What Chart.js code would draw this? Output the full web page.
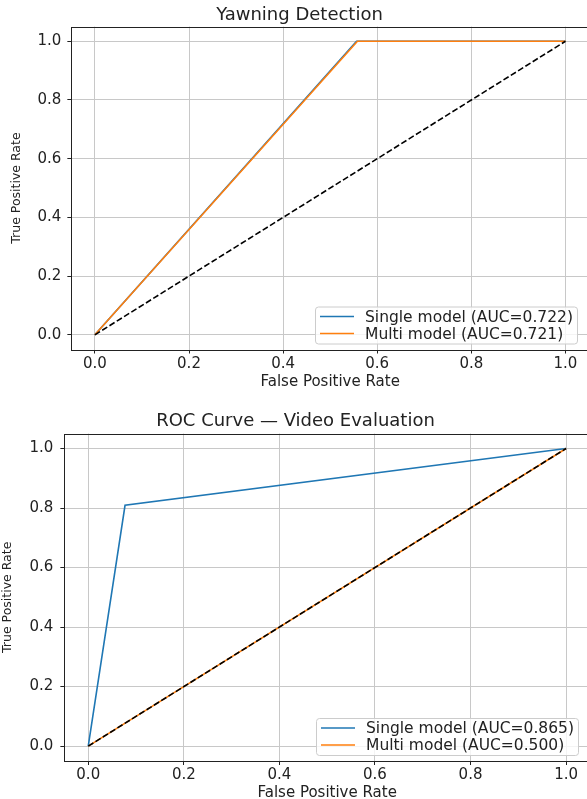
<!DOCTYPE html>
<html>
<head>
<meta charset="utf-8">
<script src="https://cdn.jsdelivr.net/npm/chart.js@4.4.1/dist/chart.umd.min.js"></script>
<style>
  html, body { margin: 0; padding: 0; background: #fff; overflow: hidden; }
  .box { position: absolute; left: 0; width: 600px; }
  #top { top: 0; height: 395px; }
  #bottom { top: 395px; height: 408px; }
</style>
</head>
<body>
<div class="box" id="top"><canvas id="yawnChart"></canvas></div>
<div class="box" id="bottom"><canvas id="videoChart"></canvas></div>
<script>
// Yawning detection ROC points
const yawnSingleFpr = [0, 0.556, 1];
const yawnSingleTpr = [0, 1, 1];
const yawnMultiFpr = [0, 0.558, 1];
const yawnMultiTpr = [0, 1, 1];

// Video evaluation ROC points
const videoSingleFpr = [0, 0.077, 1];
const videoSingleTpr = [0, 0.809, 1];
const videoMultiFpr = [0, 1];
const videoMultiTpr = [0, 1];

const chanceFpr = [0, 1];
const chanceTpr = [0, 1];

const tickValues = [0, 0.2, 0.4, 0.6, 0.8, 1.0];

const yawnLabels = ["Single model (AUC=0.722)", "Multi model (AUC=0.721)"];
const videoLabels = ["Single model (AUC=0.865)", "Multi model (AUC=0.500)"];

const BLUE = "#1f77b4";
const ORANGE = "#ff7f0e";
const FONT = "'DejaVu Sans', sans-serif";

function pts(xs, ys) {
  return xs.map((x, i) => ({ x: x, y: ys[i] }));
}

// legend in lower right, matplotlib style
const rocLegend = {
  id: "rocLegend",
  afterDatasetsDraw(chart) {
    const ctx = chart.ctx;
    const area = chart.chartArea;
    const items = chart.data.datasets.filter(d => d.inLegend);
    ctx.save();
    ctx.font = "15.5px " + FONT;
    let textW = 0;
    items.forEach(d => { textW = Math.max(textW, ctx.measureText(d.label).width); });
    const rowH = 17;
    const w = 5 + 34 + 11 + textW + 4;
    const h = items.length * rowH + 3;
    const right = area.right - 12;
    const bottom = area.bottom - 6;
    const left = right - w;
    const top = bottom - h;
    ctx.beginPath();
    ctx.roundRect(left + 0.5, top + 0.5, w, h, 3);
    ctx.fillStyle = "rgba(255,255,255,0.8)";
    ctx.fill();
    ctx.strokeStyle = "#cccccc";
    ctx.lineWidth = 1;
    ctx.stroke();
    items.forEach((d, i) => {
      const cy = top + 1.5 + rowH * i + rowH / 2;
      ctx.beginPath();
      ctx.moveTo(left + 5, cy);
      ctx.lineTo(left + 39, cy);
      ctx.strokeStyle = d.borderColor;
      ctx.lineWidth = 1.6;
      ctx.stroke();
      ctx.fillStyle = "#222";
      ctx.textBaseline = "middle";
      ctx.fillText(d.label, left + 50, cy + 1);
    });
    ctx.restore();
  }
};

// full box around the plot area
const frame = {
  id: "frame",
  afterDraw(chart) {
    const a = chart.chartArea;
    const ctx = chart.ctx;
    ctx.save();
    ctx.strokeStyle = "#222";
    ctx.lineWidth = 1;
    ctx.strokeRect(Math.round(a.left) + 0.5, Math.round(a.top) + 0.5,
      Math.round(a.right - a.left), Math.round(a.bottom - a.top));
    ctx.restore();
  }
};

function axis(titleText, isY, tickPad) {
  return {
    type: "linear",
    min: -0.05,
    max: 1.05,
    afterBuildTicks: (s) => { s.ticks = tickValues.map(v => ({ value: v })); },
    ticks: {
      color: "#222",
      font: { family: FONT, size: 15, lineHeight: 1 },
      padding: tickPad,
      callback: (v) => v.toFixed(1)
    },
    grid: {
      color: "#c8c8c8",
      lineWidth: 1,
      tickColor: "#222",
      tickLength: 4
    },
    border: { display: false },
    title: {
      display: true,
      text: titleText,
      color: "#222",
      font: { family: FONT, size: isY ? 12.5 : 15, lineHeight: 1 },
      padding: isY ? { top: 0, bottom: 9 } : { top: 0, bottom: 0 }
    }
  };
}

function makeChart(id, title, datasets, cfg) {
  return new Chart(document.getElementById(id), {
    type: "scatter",
    data: { datasets: datasets },
    options: {
      responsive: true,
      maintainAspectRatio: false,
      animation: false,
      layout: { padding: cfg.pad },
      plugins: {
        legend: { display: false },
        tooltip: { enabled: false },
        title: {
          display: true,
          text: title,
          color: "#222",
          font: { family: FONT, size: 18, weight: "normal", lineHeight: 1.2 },
          padding: cfg.titlePad
        }
      },
      scales: {
        x: axis("False Positive Rate", false, cfg.xTickPad),
        y: axis("True Positive Rate", true, cfg.yTickPad)
      }
    },
    plugins: [rocLegend, frame]
  });
}

function line(label, xs, ys, color, order, dashed, inLegend) {
  return {
    label: label,
    data: pts(xs, ys),
    showLine: true,
    borderColor: color,
    backgroundColor: color,
    borderWidth: 1.6,
    borderDash: dashed ? [6, 2.6] : [],
    pointRadius: 0,
    order: order,
    inLegend: inLegend
  };
}

makeChart("yawnChart", "Yawning Detection", [
  line(yawnLabels[0], yawnSingleFpr, yawnSingleTpr, BLUE, 2, false, true),
  line(yawnLabels[1], yawnMultiFpr, yawnMultiTpr, ORANGE, 1, false, true),
  line("chance", chanceFpr, chanceTpr, "#000", 0, true, false)
], {
  pad: { left: 10, right: 11, top: 0, bottom: 5.5 },
  titlePad: { top: 5, bottom: 0 },
  xTickPad: 3,
  yTickPad: 6
});

makeChart("videoChart", "ROC Curve \u2014 Video Evaluation", [
  line(videoLabels[0], videoSingleFpr, videoSingleTpr, BLUE, 2, false, true),
  line(videoLabels[1], videoMultiFpr, videoMultiTpr, ORANGE, 1, false, true),
  line("chance", chanceFpr, chanceTpr, "#000", 0, true, false)
], {
  pad: { left: 1, right: 10, top: 0, bottom: 2 },
  titlePad: { top: 16, bottom: 1 },
  xTickPad: 3,
  yTickPad: 7
});
</script>
</body>
</html>
